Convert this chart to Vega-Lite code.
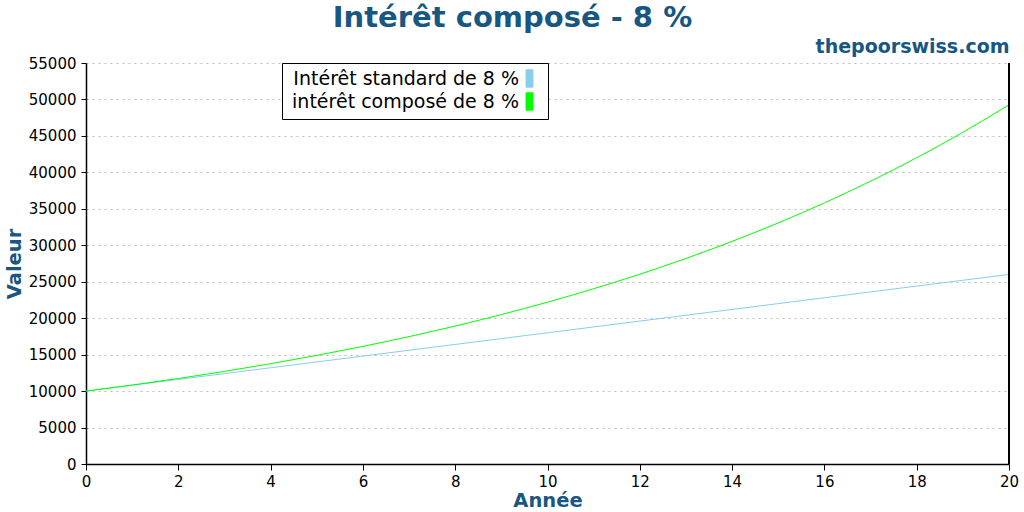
{
  "$schema": "https://vega.github.io/schema/vega-lite/v6.json",
  "width": 923,
  "height": 401,
  "autosize": {"type": "none"},
  "padding": {"left": 86, "top": 63, "right": 15, "bottom": 48},
  "background": "white",
  "title": {
    "text": "Intérêt composé - 8 %",
    "font": "DejaVu Sans",
    "fontSize": 29,
    "fontWeight": "bold",
    "color": "#175782",
    "anchor": "middle",
    "frame": "group",
    "dx": -35,
    "offset": 4
  },
  "config": {
    "font": "DejaVu Sans",
    "view": {"stroke": null},
    "axis": {
      "labelFont": "DejaVu Sans",
      "labelFontSize": 15,
      "labelColor": "black",
      "titleFont": "DejaVu Sans",
      "titleFontSize": 19.5,
      "titleFontWeight": "bold",
      "titleColor": "#175782",
      "domainColor": "black",
      "tickColor": "black",
      "domainWidth": 1.5,
      "tickWidth": 1
    }
  },
  "data": {
    "values": [
      {"annee": 0, "valeur": 10000, "serie": "Intérêt standard de 8 %"},
      {"annee": 1, "valeur": 10800, "serie": "Intérêt standard de 8 %"},
      {"annee": 2, "valeur": 11600, "serie": "Intérêt standard de 8 %"},
      {"annee": 3, "valeur": 12400, "serie": "Intérêt standard de 8 %"},
      {"annee": 4, "valeur": 13200, "serie": "Intérêt standard de 8 %"},
      {"annee": 5, "valeur": 14000, "serie": "Intérêt standard de 8 %"},
      {"annee": 6, "valeur": 14800, "serie": "Intérêt standard de 8 %"},
      {"annee": 7, "valeur": 15600, "serie": "Intérêt standard de 8 %"},
      {"annee": 8, "valeur": 16400, "serie": "Intérêt standard de 8 %"},
      {"annee": 9, "valeur": 17200, "serie": "Intérêt standard de 8 %"},
      {"annee": 10, "valeur": 18000, "serie": "Intérêt standard de 8 %"},
      {"annee": 11, "valeur": 18800, "serie": "Intérêt standard de 8 %"},
      {"annee": 12, "valeur": 19600, "serie": "Intérêt standard de 8 %"},
      {"annee": 13, "valeur": 20400, "serie": "Intérêt standard de 8 %"},
      {"annee": 14, "valeur": 21200, "serie": "Intérêt standard de 8 %"},
      {"annee": 15, "valeur": 22000, "serie": "Intérêt standard de 8 %"},
      {"annee": 16, "valeur": 22800, "serie": "Intérêt standard de 8 %"},
      {"annee": 17, "valeur": 23600, "serie": "Intérêt standard de 8 %"},
      {"annee": 18, "valeur": 24400, "serie": "Intérêt standard de 8 %"},
      {"annee": 19, "valeur": 25200, "serie": "Intérêt standard de 8 %"},
      {"annee": 20, "valeur": 26000, "serie": "Intérêt standard de 8 %"},
      {"annee": 0, "valeur": 10000, "serie": "intérêt composé de 8 %"},
      {"annee": 1, "valeur": 10830, "serie": "intérêt composé de 8 %"},
      {"annee": 2, "valeur": 11729, "serie": "intérêt composé de 8 %"},
      {"annee": 3, "valeur": 12702, "serie": "intérêt composé de 8 %"},
      {"annee": 4, "valeur": 13757, "serie": "intérêt composé de 8 %"},
      {"annee": 5, "valeur": 14898, "serie": "intérêt composé de 8 %"},
      {"annee": 6, "valeur": 16135, "serie": "intérêt composé de 8 %"},
      {"annee": 7, "valeur": 17474, "serie": "intérêt composé de 8 %"},
      {"annee": 8, "valeur": 18925, "serie": "intérêt composé de 8 %"},
      {"annee": 9, "valeur": 20495, "serie": "intérêt composé de 8 %"},
      {"annee": 10, "valeur": 22196, "serie": "intérêt composé de 8 %"},
      {"annee": 11, "valeur": 24039, "serie": "intérêt composé de 8 %"},
      {"annee": 12, "valeur": 26034, "serie": "intérêt composé de 8 %"},
      {"annee": 13, "valeur": 28195, "serie": "intérêt composé de 8 %"},
      {"annee": 14, "valeur": 30535, "serie": "intérêt composé de 8 %"},
      {"annee": 15, "valeur": 33069, "serie": "intérêt composé de 8 %"},
      {"annee": 16, "valeur": 35814, "serie": "intérêt composé de 8 %"},
      {"annee": 17, "valeur": 38787, "serie": "intérêt composé de 8 %"},
      {"annee": 18, "valeur": 42006, "serie": "intérêt composé de 8 %"},
      {"annee": 19, "valeur": 45493, "serie": "intérêt composé de 8 %"},
      {"annee": 20, "valeur": 49268, "serie": "intérêt composé de 8 %"}
    ]
  },
  "layer": [
    {
      "mark": {"type": "line", "strokeWidth": 1, "interpolate": "monotone"},
      "encoding": {
        "x": {
          "field": "annee",
          "type": "quantitative",
          "scale": {"domain": [0, 20], "nice": false, "zero": false},
          "axis": {
            "title": "Année",
            "values": [0, 2, 4, 6, 8, 10, 12, 14, 16, 18, 20],
            "grid": false,
            "labelFlush": false,
            "tickSize": 6,
            "labelPadding": 4,
            "titlePadding": 2
          }
        },
        "y": {
          "field": "valeur",
          "type": "quantitative",
          "scale": {"domain": [0, 55000], "nice": false},
          "axis": {
            "title": "Valeur",
            "values": [0, 5000, 10000, 15000, 20000, 25000, 30000, 35000, 40000, 45000, 50000, 55000],
            "format": "d",
            "grid": true,
            "gridColor": "#bbbbbb",
            "gridDash": [2, 4],
            "gridWidth": 1,
            "tickSize": 5,
            "labelPadding": 5,
            "titlePadding": 4
          }
        },
        "color": {
          "field": "serie",
          "type": "nominal",
          "sort": null,
          "scale": {
            "domain": ["Intérêt standard de 8 %", "intérêt composé de 8 %"],
            "range": ["#87ceeb", "#00ff00"]
          },
          "legend": {
            "title": null,
            "orient": "none",
            "legendX": 196,
            "legendY": 0,
            "strokeColor": "black",
            "fillColor": "white",
            "padding": 6,
            "labelFont": "DejaVu Sans",
            "labelFontSize": 19,
            "labelColor": "black",
            "labelLimit": 0,
            "labelAlign": "right",
            "labelOffset": -20,
            "symbolOffset": 232,
            "rowPadding": 0,
            "symbolType": "M-0.4,-1L0.4,-1L0.4,1L-0.4,1Z M1.2,0L1.2,0",
            "symbolSize": 300,
            "symbolStrokeWidth": 1,
            "symbolStrokeColor": "black",
            "encode": {
              "symbols": {
                "update": {
                  "fill": {"scale": "color", "field": "value"},
                  "stroke": {"value": "black"},
                  "strokeWidth": {"value": 1},
                  "opacity": {"value": 1}
                }
              }
            }
          }
        }
      }
    },
    {
      "mark": {"type": "rule", "color": "black", "strokeWidth": 1.5},
      "encoding": {
        "x": {
          "datum": 20,
          "type": "quantitative",
          "axis": {
            "orient": "top",
            "labels": false,
            "ticks": false,
            "domain": false,
            "grid": false,
            "title": "thepoorswiss.com",
            "titleAnchor": "end",
            "titleAlign": "right",
            "titleFontSize": 19,
            "titlePadding": 7
          }
        }
      }
    }
  ],
  "resolve": {"axis": {"x": "independent"}}
}
